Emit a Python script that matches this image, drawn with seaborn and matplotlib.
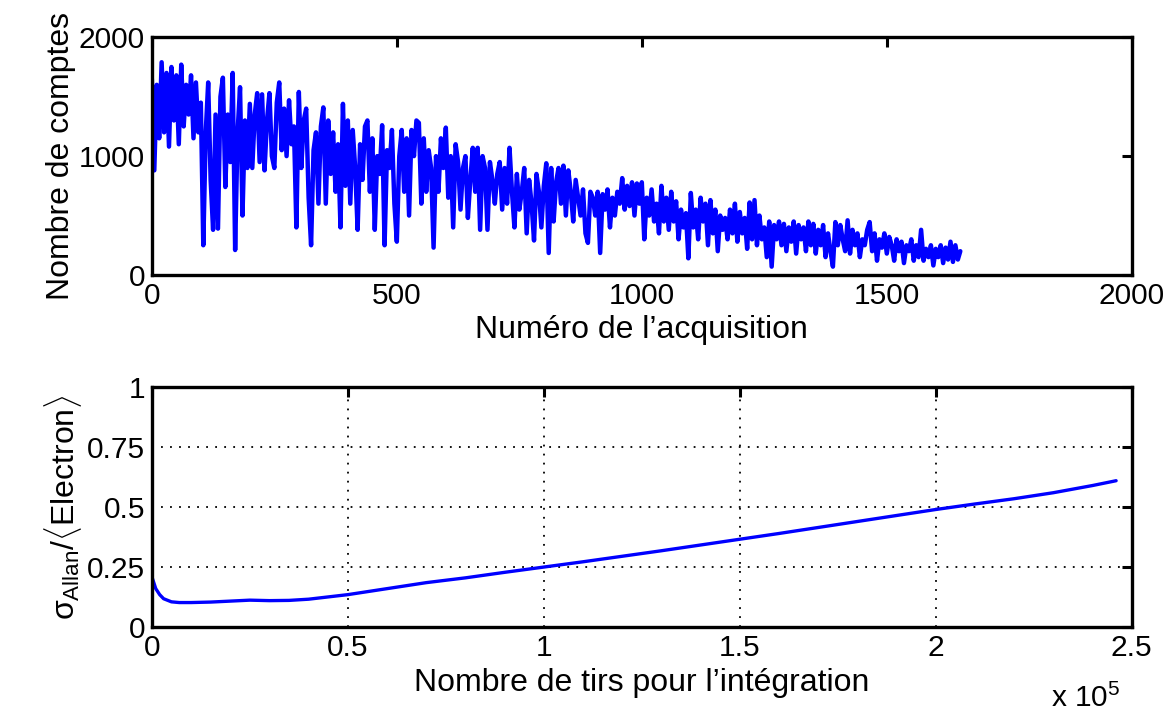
import numpy as np
import pandas as pd
import seaborn as sns
import matplotlib.pyplot as plt

# Comptes par acquisition (une valeur lue toutes les 5 acquisitions)
pas_acq = 5
comptes = [
    1650, 880, 1600, 1150, 1790, 1200, 1700, 1080, 1750, 1300, 1680, 1100, 1770, 1250, 1600, 1350, 1680, 1150, 1620, 1200,
    1450, 250, 1200, 1620, 800, 380, 1350, 390, 1500, 1660, 740, 1350, 950, 1700, 210, 1200, 1580, 500, 1300, 900,
    1440, 900, 1350, 1530, 950, 1520, 880, 1300, 1530, 1000, 900, 1450, 1620, 1050, 1400, 1000, 1470, 1100, 1250, 400,
    1540, 900, 1300, 1400, 650, 250, 1050, 1200, 600, 1250, 1410, 600, 1300, 850, 1200, 700, 1100, 400, 1440, 750,
    1300, 600, 1220, 900, 380, 1100, 800, 1250, 1300, 700, 1150, 380, 1000, 850, 1260, 250, 1050, 900, 1220, 600,
    280, 1000, 1220, 700, 1150, 500, 1220, 1000, 1300, 1280, 600, 1150, 700, 1050, 900, 230, 1000, 700, 1150, 900,
    1240, 650, 1000, 400, 1100, 950, 550, 900, 1000, 480, 800, 1070, 700, 1070, 380, 1000, 900, 380, 950, 800,
    600, 850, 950, 550, 900, 600, 1070, 700, 400, 850, 550, 700, 900, 350, 800, 600, 290, 850, 700, 400,
    750, 940, 185, 900, 450, 780, 900, 600, 920, 500, 880, 700, 450, 800, 650, 500, 720, 350, 270, 700,
    650, 500, 700, 185, 680, 550, 720, 400, 650, 500, 700, 600, 815, 550, 750, 580, 780, 500, 770, 600,
    780, 300, 650, 500, 720, 450, 600, 350, 750, 450, 650, 380, 700, 450, 620, 300, 550, 400, 520, 140,
    690, 400, 550, 300, 650, 450, 600, 250, 630, 350, 550, 200, 500, 380, 480, 300, 550, 350, 600, 280,
    530, 350, 480, 220, 610, 300, 630, 250, 500, 300, 400, 150, 450, 70, 420, 300, 450, 250, 430, 200,
    400, 280, 450, 180, 420, 300, 400, 200, 450, 250, 430, 180, 380, 250, 420, 150, 350, 200, 70, 445,
    250, 420, 300, 200, 460, 180, 380, 250, 350, 150, 300, 250, 380, 445, 200, 350, 120, 300, 230, 350,
    180, 320, 250, 120, 300, 200, 280, 100, 250, 200, 300, 120, 250, 150, 380, 120, 220, 150, 250, 80,
    220, 150, 250, 100, 230, 130, 280, 110, 250, 130, 200,
]

# Ecart type d'Allan normalisé
tirs = [0, 500, 1000, 2000, 3000, 5000, 7000, 10000, 15000, 20000, 25000, 30000, 35000, 40000,
        50000, 60000, 70000, 80000, 90000, 100000, 110000, 120000, 130000, 140000, 150000,
        160000, 170000, 180000, 190000, 200000, 210000, 220000, 230000, 240000, 246000]
allan = [0.21, 0.185, 0.16, 0.135, 0.118, 0.105, 0.102, 0.102, 0.104, 0.108, 0.112, 0.110, 0.111, 0.116,
         0.135, 0.16, 0.185, 0.205, 0.228, 0.25, 0.272, 0.295, 0.318, 0.342, 0.366,
         0.39, 0.415, 0.44, 0.465, 0.49, 0.513, 0.535, 0.56, 0.59, 0.61]

df_top = pd.DataFrame({"acq": np.arange(len(comptes)) * pas_acq, "comptes": comptes})
df_bot = pd.DataFrame({"tirs": np.array(tirs) / 1e5, "allan": allan})

sns.set_style("white")
plt.rcParams["font.family"] = ["Liberation Sans", "DejaVu Sans"]
plt.rcParams["mathtext.fontset"] = "custom"
plt.rcParams["mathtext.rm"] = "Liberation Sans"
plt.rcParams["mathtext.it"] = "Liberation Sans"
plt.rcParams["mathtext.sf"] = "Liberation Sans"
plt.rcParams["text.color"] = "black"
plt.rcParams["axes.labelcolor"] = "black"

fig = plt.figure(figsize=(11.68, 7.17), dpi=100)
ax1 = fig.add_axes([0.130, 0.6165, 0.839, 0.3315])
ax2 = fig.add_axes([0.130, 0.1255, 0.839, 0.3345])

sns.lineplot(data=df_top, x="acq", y="comptes", ax=ax1, color="#0000ff", linewidth=3.2)
sns.lineplot(data=df_bot, x="tirs", y="allan", ax=ax2, color="#0000ff", linewidth=2.4)

fs = 21.5
fl = 23
for ax in (ax1, ax2):
    for s in ax.spines.values():
        s.set_linewidth(2.4)
        s.set_color("black")
    ax.tick_params(direction="in", length=7, width=2.2, top=True, right=True,
                   labelsize=fs, pad=5, colors="black")

ax1.set_xlim(0, 2000)
ax1.set_ylim(0, 2000)
ax1.set_xticks([0, 500, 1000, 1500, 2000])
ax1.set_yticks([0, 1000, 2000])
ax1.set_xlabel("Numéro de l’acquisition", fontsize=fl, labelpad=4)
ax1.set_ylabel("Nombre de comptes", fontsize=fl, labelpad=2)

ax2.set_xlim(0, 2.5)
ax2.set_ylim(0, 1)
ax2.set_xticks([0, 0.5, 1, 1.5, 2, 2.5])
ax2.set_xticklabels(["0", "0.5", "1", "1.5", "2", "2.5"])
ax2.set_yticks([0, 0.25, 0.5, 0.75, 1])
ax2.set_yticklabels(["0", "0.25", "0.5", "0.75", "1"])
ax2.grid(True, linestyle=(0, (1, 4)), color="black", linewidth=1.3)
ax2.set_axisbelow(True)
ax2.set_xlabel("Nombre de tirs pour l’intégration", fontsize=fl, labelpad=4)
ax2.set_ylabel(r"$\sigma_{\mathrm{Allan}}$/$\langle$Electron$\rangle$", fontsize=fl, labelpad=2)
ax2.text(0.988, -0.235, r"x 10$^{5}$", transform=ax2.transAxes, fontsize=fs,
         ha="right", va="top")

plt.savefig("out.png", dpi=100)
